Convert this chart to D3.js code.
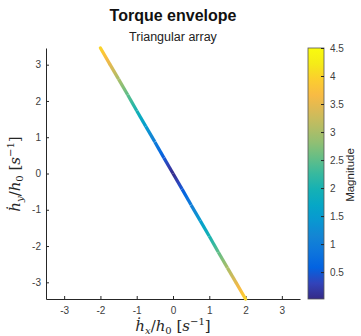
<!DOCTYPE html>
<html>
<head>
<meta charset="utf-8">
<script src="https://cdn.jsdelivr.net/npm/d3@7"></script>
<style>
body { margin: 0; background: #fff; }
svg { display: block; font-family: "Liberation Sans", Arial, sans-serif; }
.tick text { fill: #404040; font-size: 10px; }
.tick line { stroke: #262626; }
.domain { stroke: #262626; }
</style>
</head>
<body>
<svg width="361" height="336"></svg>
<script>
// points along the envelope
var hx = [-2, -1.75, -1.5, -1.25, -1, -0.75, -0.5, -0.25, 0, 0.25, 0.5, 0.75, 1, 1.25, 1.5, 1.75, 2];
var hy = [3.46, 3.03, 2.6, 2.17, 1.73, 1.3, 0.87, 0.43, 0, -0.43, -0.87, -1.3, -1.73, -2.17, -2.6, -3.03, -3.46];
var mag = [4, 3.5, 3, 2.5, 2, 1.5, 1, 0.5, 0.03, 0.5, 1, 1.5, 2, 2.5, 3, 3.5, 4];

var xTicks = [-3, -2, -1, 0, 1, 2, 3];
var yTicks = [-3, -2, -1, 0, 1, 2, 3];
var cTicks = [0.5, 1, 1.5, 2, 2.5, 3, 3.5, 4, 4.5];
var cRange = [0.02, 4.5];

// parula, every 4th entry of the 64 map
var parula = [
	[0.2081,0.1663,0.5292],[0.1959,0.2645,0.7279],[0.0117,0.3875,0.8820],[0.0498,0.4586,0.8641],
	[0.0793,0.5200,0.8312],[0.0343,0.5966,0.8199],[0.0228,0.6535,0.7768],[0.0843,0.6928,0.7062],
	[0.2178,0.7250,0.6193],[0.3953,0.7459,0.5244],[0.5709,0.7485,0.4494],[0.7184,0.7411,0.3905],
	[0.8507,0.7299,0.3360],[0.9739,0.7314,0.2666],[0.9880,0.8066,0.1794],[0.9598,0.9218,0.0948],
	[0.9763,0.9831,0.0538]
].map(function(c){ return d3.rgb(c[0]*255, c[1]*255, c[2]*255); });
var interp = d3.piecewise(d3.interpolateRgb, parula);
var color = d3.scaleSequential(interp).domain(cRange);

var svg = d3.select("svg");
var defs = svg.append("defs");

var x = d3.scaleLinear().domain([-3.5, 3.5]).range([46, 300]);
var y = d3.scaleLinear().domain([-3.46, 3.46]).range([299, 48]);
var fmt = function(d){ return String(d); };

svg.append("g").attr("transform", "translate(0,299)")
	.call(d3.axisBottom(x).tickValues(xTicks).tickFormat(fmt).tickSizeInner(-3).tickSizeOuter(0).tickPadding(8));
svg.append("g").attr("transform", "translate(46,0)")
	.call(d3.axisLeft(y).tickValues(yTicks).tickFormat(fmt).tickSizeInner(-3).tickSizeOuter(0).tickPadding(5));

// the envelope, segment by segment with a gradient
var lineG = svg.append("g");
for (var i = 0; i < hx.length - 1; i++) {
	var gid = "seg" + i;
	var gr = defs.append("linearGradient").attr("id", gid)
		.attr("gradientUnits", "userSpaceOnUse")
		.attr("x1", x(hx[i])).attr("y1", y(hy[i]))
		.attr("x2", x(hx[i+1])).attr("y2", y(hy[i+1]));
	[0, 0.25, 0.5, 0.75, 1].forEach(function(t){
		gr.append("stop").attr("offset", t)
			.attr("stop-color", color(mag[i] + (mag[i+1] - mag[i]) * t));
	});
	lineG.append("line")
		.attr("x1", x(hx[i])).attr("y1", y(hy[i]))
		.attr("x2", x(hx[i+1])).attr("y2", y(hy[i+1]))
		.attr("stroke", "url(#" + gid + ")")
		.attr("stroke-width", 3.3)
		.attr("stroke-linecap", i == 0 || i == hx.length - 2 ? "round" : "butt");
}

// colorbar
var cx0 = 308, cw = 16;
var c = d3.scaleLinear().domain(cRange).range([299, 48]);
var cg = defs.append("linearGradient").attr("id", "cbar")
	.attr("x1", 0).attr("y1", 1).attr("x2", 0).attr("y2", 0);
d3.range(0, 1.0001, 1/32).forEach(function(t){
	cg.append("stop").attr("offset", t).attr("stop-color", interp(t));
});
svg.append("rect").attr("x", cx0).attr("y", 48).attr("width", cw).attr("height", 251)
	.attr("fill", "url(#cbar)").attr("stroke", "#555").attr("stroke-width", 0.8);
var cax = svg.append("g").attr("transform", "translate(" + (cx0 + cw) + ",0)")
	.call(d3.axisRight(c).tickValues(cTicks).tickFormat(fmt).tickSizeInner(-3).tickSizeOuter(0).tickPadding(6));
cax.select(".domain").remove();
svg.append("text").attr("transform", "translate(354,175) rotate(-90)")
	.attr("text-anchor", "middle").attr("font-size", 11.5).attr("fill", "#262626")
	.text("Magnitude");

// titles
svg.append("text").attr("x", 173).attr("y", 21).attr("text-anchor", "middle")
	.attr("font-size", 16).attr("font-weight", "bold").attr("fill", "#111")
	.text("Torque envelope");
svg.append("text").attr("x", 173).attr("y", 41).attr("text-anchor", "middle")
	.attr("font-size", 12.5).attr("fill", "#222")
	.text("Triangular array");

// latex-ish axis labels
function texLabel(sel, sub) {
	sel.attr("font-family", "'DejaVu Serif', 'Liberation Serif', serif").attr("font-size", 15).attr("fill", "#262626");
	sel.append("tspan").attr("font-style", "italic").text("h\u0307");
	sel.append("tspan").attr("font-style", "italic").attr("font-size", 10).attr("dy", 3).text(sub);
	sel.append("tspan").attr("dy", -3).text("/");
	sel.append("tspan").attr("font-style", "italic").text("h");
	sel.append("tspan").attr("font-size", 10).attr("dy", 3).text("0");
	sel.append("tspan").attr("dy", -3).text(" [");
	sel.append("tspan").attr("font-style", "italic").text("s");
	sel.append("tspan").attr("font-size", 10).attr("dy", -6).text("\u22121");
	sel.append("tspan").attr("dy", 6).text("]");
}
texLabel(svg.append("text").attr("x", 173).attr("y", 331).attr("text-anchor", "middle"), "x");
texLabel(svg.append("text").attr("transform", "translate(20,174) rotate(-90)").attr("text-anchor", "middle"), "y");
</script>
</body>
</html>
